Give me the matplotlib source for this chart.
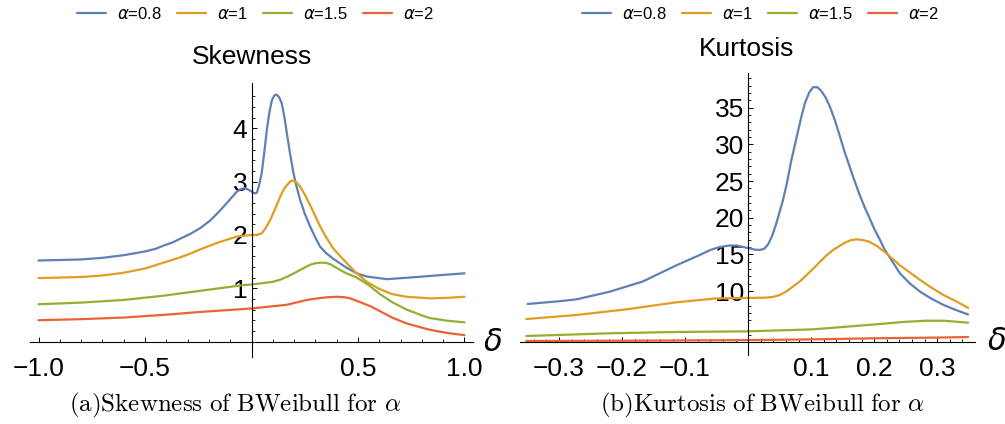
import matplotlib
matplotlib.use("Agg")
import matplotlib.pyplot as plt
from matplotlib.font_manager import FontProperties

plt.rcParams['font.family'] = ['Liberation Sans', 'DejaVu Sans']
plt.rcParams['axes.unicode_minus'] = True

# colours (Mathematica default style)
colors = ['#5E81B5', '#E19C24', '#8FB032', '#EB6235']
labels = [r'$\alpha$=0.8', r'$\alpha$=1', r'$\alpha$=1.5', r'$\alpha$=2']

# ---- skewness data ----
sk_d_08 = [-1.0, -0.9, -0.8, -0.7, -0.6, -0.5, -0.45, -0.413, -0.37, -0.334, -0.287, -0.24, -0.194,
           -0.147, -0.10, -0.069, -0.05, -0.03, -0.015, 0.002, 0.012, 0.025, 0.035, 0.048, 0.06,
           0.072, 0.084, 0.096, 0.108, 0.119, 0.13, 0.142, 0.154, 0.166, 0.18, 0.197, 0.21,
           0.228, 0.25, 0.275, 0.30, 0.322, 0.35, 0.385, 0.44, 0.494, 0.541, 0.635, 0.775, 0.9, 1.0]
sk_v_08 = [1.52, 1.53, 1.54, 1.57, 1.62, 1.69, 1.74, 1.80, 1.86, 1.93, 2.02, 2.13, 2.27,
           2.46, 2.67, 2.81, 2.86, 2.88, 2.85, 2.81, 2.78, 2.79, 2.92, 3.16, 3.55,
           3.97, 4.3, 4.53, 4.62, 4.63, 4.58, 4.47, 4.22, 3.91, 3.55, 3.16, 2.93,
           2.66, 2.4, 2.16, 1.95, 1.78, 1.66, 1.55, 1.40, 1.28, 1.22, 1.17, 1.21, 1.25, 1.28]

sk_d_1 = [-1.0, -0.9, -0.8, -0.7, -0.6, -0.5, -0.413, -0.334, -0.287, -0.24, -0.162, -0.10, -0.068,
          0.0, 0.02, 0.048, 0.065, 0.088, 0.11, 0.135, 0.155, 0.174, 0.185, 0.197, 0.21, 0.228,
          0.25, 0.275, 0.30, 0.322, 0.35, 0.385, 0.44, 0.486,
          0.541, 0.603, 0.66, 0.728, 0.838, 0.92, 1.0]
sk_v_1 = [1.19, 1.20, 1.21, 1.24, 1.29, 1.37, 1.48, 1.58, 1.65, 1.73, 1.85, 1.93, 1.97,
          2.0, 2.0, 2.03, 2.12, 2.28, 2.48, 2.72, 2.88, 2.97, 3.01, 3.02, 2.99, 2.91,
          2.76, 2.56, 2.35, 2.16, 1.96, 1.74, 1.50, 1.31,
          1.12, 0.98, 0.89, 0.84, 0.81, 0.82, 0.84]

sk_d_15 = [-1.0, -0.8, -0.6, -0.413, -0.225, -0.037, 0.0, 0.1, 0.135, 0.175, 0.213, 0.275, 0.30, 0.33,
           0.35, 0.37, 0.40, 0.44, 0.494, 0.55, 0.603, 0.66, 0.728, 0.8, 0.838, 0.92, 1.0]
sk_v_15 = [0.70, 0.73, 0.78, 0.86, 0.96, 1.06, 1.07, 1.12, 1.16, 1.23, 1.31, 1.44, 1.47, 1.48,
           1.475, 1.45, 1.38, 1.29, 1.20, 1.06, 0.89, 0.74, 0.60, 0.49, 0.44, 0.39, 0.36]

sk_d_2 = [-1.0, -0.8, -0.6, -0.413, -0.225, -0.037, 0.0, 0.166, 0.26, 0.31, 0.354, 0.40, 0.44,
          0.463, 0.51, 0.56, 0.603, 0.66, 0.728, 0.8, 0.838, 0.92, 1.0]
sk_v_2 = [0.40, 0.42, 0.45, 0.50, 0.56, 0.61, 0.62, 0.69, 0.78, 0.81, 0.83, 0.84, 0.83,
          0.81, 0.74, 0.66, 0.57, 0.45, 0.34, 0.26, 0.22, 0.16, 0.12]

# ---- kurtosis data ----
ku_d_08 = [-0.35, -0.3, -0.272, -0.22, -0.167, -0.114, -0.077, -0.06, -0.045, -0.03, -0.018, 0.003,
           0.01, 0.019, 0.026, 0.032, 0.038, 0.045, 0.055, 0.061, 0.068, 0.077, 0.084, 0.09, 0.097,
           0.103, 0.11, 0.116, 0.123, 0.13, 0.138, 0.146, 0.153, 0.161, 0.169, 0.177, 0.185, 0.193,
           0.2, 0.209, 0.217, 0.229, 0.241, 0.257, 0.273, 0.29, 0.31, 0.33, 0.349]
ku_v_08 = [8.23, 8.6, 8.87, 9.9, 11.3, 13.5, 14.9, 15.6, 16.0, 16.2, 16.2, 15.8,
           15.65, 15.6, 15.8, 16.4, 17.5, 19.3, 22.3, 24.5, 27.6, 31.0, 33.6, 35.6, 37.1,
           37.8, 37.8, 37.3, 36.4, 35.1, 33.2, 31.0, 29.0, 27.0, 25.0, 23.1, 21.4, 19.9,
           18.5, 17.0, 15.6, 14.0, 12.4, 11.0, 9.9, 9.0, 8.1, 7.4, 6.8]

ku_d_1 = [-0.352, -0.272, -0.193, -0.114, -0.05, 0.0, 0.029, 0.04, 0.05, 0.06, 0.071, 0.082, 0.093,
          0.104, 0.114, 0.125, 0.135, 0.146, 0.156, 0.164, 0.172, 0.182, 0.193, 0.205, 0.217,
          0.229, 0.241, 0.257, 0.273, 0.29, 0.31, 0.33, 0.349]
ku_v_1 = [6.18, 6.73, 7.5, 8.46, 9.0, 9.05, 9.1, 9.2, 9.45, 9.9, 10.6, 11.3, 12.2,
          13.1, 14.0, 14.9, 15.6, 16.2, 16.7, 16.95, 17.05, 16.95, 16.7, 16.1, 15.3,
          14.4, 13.5, 12.5, 11.5, 10.5, 9.45, 8.6, 7.7]

ku_d_15 = [-0.352, -0.22, -0.114, 0.0, 0.103, 0.156, 0.209, 0.25, 0.283, 0.31, 0.349]
ku_v_15 = [3.86, 4.23, 4.41, 4.5, 4.77, 5.13, 5.5, 5.8, 5.95, 5.95, 5.68]

ku_d_2 = [-0.352, -0.2, 0.0, 0.1, 0.2, 0.3, 0.349]
ku_v_2 = [3.18, 3.22, 3.3, 3.4, 3.55, 3.65, 3.72]

# ticks
sk_xticks = [-1.0, -0.5, 0.5, 1.0]
sk_xticklabels = ['\u22121.0', '\u22120.5', '0.5', '1.0']
sk_yticks = [1, 2, 3, 4]
ku_xticks = [-0.3, -0.2, -0.1, 0.1, 0.2, 0.3]
ku_xticklabels = ['\u22120.3', '\u22120.2', '\u22120.1', '0.1', '0.2', '0.3']
ku_yticks = [10, 15, 20, 25, 30, 35]

W, H = 1005, 424
fig = plt.figure(figsize=(W / 100, H / 100), dpi=100)

ax1 = fig.add_axes([30 / W, (H - 357) / H, 443 / W, 274 / H])
ax2 = fig.add_axes([520 / W, (H - 355) / H, 455 / W, 281.7 / H])


def style(ax, y0):
    # Mathematica-like axes crossing in the middle
    for s in ['top', 'right']:
        ax.spines[s].set_visible(False)
    ax.spines['left'].set_position(('data', 0))
    ax.spines['bottom'].set_position(('data', y0))
    for s in ['left', 'bottom']:
        ax.spines[s].set_linewidth(0.8)
    ax.tick_params(which='major', direction='in', length=3.5, width=0.7, labelsize=19, pad=3)
    ax.tick_params(axis='x', which='major', pad=11)
    ax.tick_params(which='minor', direction='in', length=2, width=0.6)
    ax.patch.set_visible(False)


series_sk = [(sk_d_08, sk_v_08), (sk_d_1, sk_v_1), (sk_d_15, sk_v_15), (sk_d_2, sk_v_2)]
series_ku = [(ku_d_08, ku_v_08), (ku_d_1, ku_v_1), (ku_d_15, ku_v_15), (ku_d_2, ku_v_2)]

handles = []
for (d, v), c, lab in zip(series_sk, colors, labels):
    h, = ax1.plot(d, v, color=c, lw=1.6, label=lab, solid_capstyle='round', solid_joinstyle='round')
    handles.append(h)
for (d, v), c in zip(series_ku, colors):
    ax2.plot(d, v, color=c, lw=1.6, solid_capstyle='round', solid_joinstyle='round')

ax1.set_xlim(-1.04, 1.04)
ax1.set_ylim(-0.29, 4.85)
style(ax1, 0)
ax1.set_xticks(sk_xticks)
ax1.set_xticklabels(sk_xticklabels)
ax1.set_xticks([i / 10 for i in range(-10, 11) if i % 5], minor=True)
ax1.set_yticks(sk_yticks)
ax1.set_yticks([i / 5 for i in range(1, 24) if i % 5], minor=True)

ax2.set_xlim(-0.362, 0.36)
ax2.set_ylim(1.27, 39.7)
style(ax2, 3.1)
ax2.set_xticks(ku_xticks)
ax2.set_xticklabels(ku_xticklabels)
ax2.set_xticks([i / 50 for i in range(-17, 18) if i % 5], minor=True)
ax2.set_yticks(ku_yticks)
ax2.set_yticks([i for i in range(4, 40) if i % 5], minor=True)

# titles
fig.text(252 / W, 1 - 57 / H, 'Skewness', ha='center', va='center', fontsize=19)
fig.text(747 / W, 1 - 49 / H, 'Kurtosis', ha='center', va='center', fontsize=19)

# delta axis labels
fig.text(493 / W, 1 - 343 / H, r'$\delta$', ha='center', va='center', fontsize=22)
fig.text(997 / W, 1 - 342 / H, r'$\delta$', ha='center', va='center', fontsize=22)

# legends
leg_font = FontProperties(family='Liberation Sans', size=12, math_fontfamily='dejavusans')
for cx in [256, 761]:
    fig.legend(handles=handles, loc='center', bbox_to_anchor=(cx / W, 1 - 14 / H), ncol=4,
               frameon=False, prop=leg_font, handlelength=1.7, handletextpad=0.7,
               columnspacing=0.9, borderpad=0)

# captions
fig.text(235 / W, 1 - 405 / H, r'$\mathrm{(a)Skewness\ of\ BWeibull\ for\ }\alpha$',
         ha='center', va='center', fontsize=18, math_fontfamily='cm')
fig.text(762 / W, 1 - 405 / H, r'$\mathrm{(b)Kurtosis\ of\ BWeibull\ for\ }\alpha$',
         ha='center', va='center', fontsize=18, math_fontfamily='cm')

fig.savefig('out.png', dpi=100)
